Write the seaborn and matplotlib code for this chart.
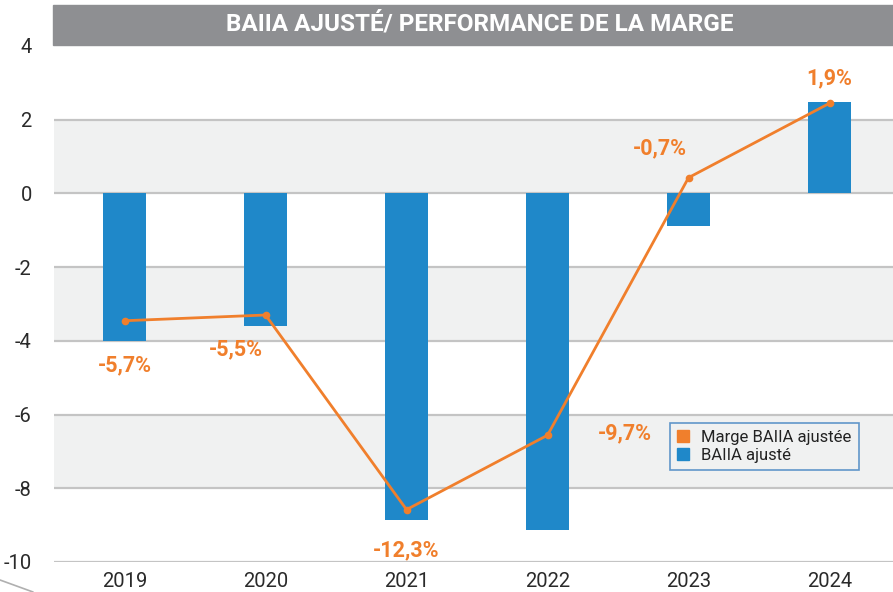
import matplotlib.pyplot as plt
import matplotlib.lines as mlines
from matplotlib.patches import Rectangle, Patch
import seaborn as sns

# values
years = ["2019", "2020", "2021", "2022", "2023", "2024"]
baiia = [-4.0, -3.6, -8.85, -9.12, -0.88, 2.48]           # bars, left scale
marge = [-5.7, -5.5, -12.3, -9.7, -0.7, 1.9]              # line, hidden right scale (%)
marge_labels = ["-5,7%", "-5,5%", "-12,3%", "-9,7%", "-0,7%", "1,9%"]
yticks = [-10, -8, -6, -4, -2, 0, 2, 4]

blue = "#1f88c9"
orange = "#f07f2c"
band = "#f0f1f1"

sns.set_style("white")
plt.rcParams["font.family"] = ["Roboto", "DejaVu Sans"]

fig = plt.figure(figsize=(8.93, 5.92), dpi=100)
ax = fig.add_axes([0.0605, 0.0507, 0.9395, 0.8716])

# alternating bands
for lo in [-8, -4, 0]:
    ax.axhspan(lo, lo + 2, color=band, zorder=0, lw=0)
for t in yticks[:-1]:
    ax.axhline(t, color="#c4c4c4", lw=1.6, zorder=0.5)

sns.barplot(x=years, y=baiia, ax=ax, color=blue, width=0.31, saturation=1,
            linewidth=0, zorder=2)

ax.set_ylim(-10, 4)
ax.set_yticks(yticks)
ax.set_yticklabels([str(t) for t in yticks], fontsize=14.5, color="#2a2a2a")
ax.tick_params(axis="y", length=0, pad=16)
ax.tick_params(axis="x", length=0, labelsize=14.5, labelcolor="#2a2a2a", pad=7)
for s in ax.spines.values():
    s.set_visible(False)

# margin on a hidden secondary axis
ax2 = ax.twinx()
sns.pointplot(x=years, y=marge, ax=ax2, color=orange, markersize=4,
              linewidth=2, zorder=3)
ax2.set_ylim(-14.13, 3.9)
ax2.set_yticks([])
for s in ax2.spines.values():
    s.set_visible(False)
ax.set_xlim(-0.5, 5.45)
ax2.set_xlim(-0.5, 5.45)

offsets = [(0, -32), (-21, -25), (0, -29), (56, 1), (-21, 21), (0, 18)]
for i, (lab, (dx, dy)) in enumerate(zip(marge_labels, offsets)):
    ax2.annotate(lab, (i, marge[i]), xytext=(dx, dy), textcoords="offset points",
                 ha="center", va="center", color=orange, fontsize=15.5,
                 fontweight="bold")

handles = [Patch(color=orange, label="Marge BAIIA ajustée"),
           Patch(color=blue, label="BAIIA ajusté")]
leg = ax2.legend(handles=handles, loc="lower left", bbox_to_anchor=(0.734, 0.178),
                 borderaxespad=0, frameon=True, fancybox=False, fontsize=12,
                 handlelength=0.7, handleheight=0.7, handletextpad=0.7,
                 labelspacing=0.15, borderpad=0.45)
leg.get_frame().set_edgecolor("#3c7fc0")
leg.get_frame().set_facecolor(band)
leg.get_frame().set_linewidth(1.2)
for t in leg.get_texts():
    t.set_color("#222222")

# title banner
fig.patches.append(Rectangle((53 / 893, 1 - 45 / 592), 1, 40 / 592,
                             transform=fig.transFigure, color="#8e8f92", zorder=0))
fig.text(0.537, 1 - 24 / 592, "BAIIA AJUSTÉ/ PERFORMANCE DE LA MARGE", ha="center",
         va="center", color="white", fontsize=17.5, fontweight="bold")

# small corner decoration
fig.add_artist(mlines.Line2D([0, 0.037], [1 - 580 / 592, 0.0],
                             transform=fig.transFigure, color="#b0b0b0", lw=1.2))

fig.savefig("out.png", dpi=100)
